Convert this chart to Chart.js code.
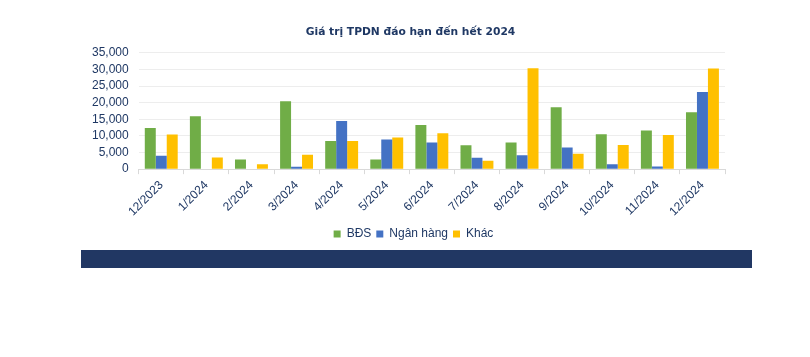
<!DOCTYPE html>
<html>
<head>
<meta charset="utf-8">
<script src="https://cdn.jsdelivr.net/npm/chart.js@4/dist/chart.umd.min.js"></script>
<style>
  html, body { margin: 0; padding: 0; background: #ffffff; }
  #wrap { position: absolute; left: 0; top: 0; width: 810px; height: 250px; }
  #band { position: absolute; left: 81px; top: 250px; width: 671px; height: 18px; background: #213763; }
</style>
</head>
<body>
<div id="wrap"><canvas id="c"></canvas></div>
<div id="band"></div>
<script>
const categories = ["12/2023","1/2024","2/2024","3/2024","4/2024","5/2024","6/2024","7/2024","8/2024","9/2024","10/2024","11/2024","12/2024"];
const bds      = [12400, 15900, 2900, 20400, 8500, 2900, 13300, 7200, 8000, 18600, 10500, 11600, 17100];
const nganHang = [4000, 0, 0, 700, 14500, 8900, 8000, 3400, 4200, 6500, 1500, 800, 23200];
const khac     = [10400, 3500, 1500, 4300, 8500, 9500, 10800, 2500, 30400, 4600, 7300, 10300, 30300];
const yTicks   = [0, 5000, 10000, 15000, 20000, 25000, 30000, 35000];
const titleText = "Giá trị TPDN đáo hạn đến hết 2024";

const navy = "#1F3864";
const fam = "'Liberation Sans', Arial, sans-serif";

// nudge title and legend horizontally to match the reference centring
const nudge = {
  id: "nudge",
  afterLayout(chart) {
    if (chart.titleBlock) { chart.titleBlock.left += 7; chart.titleBlock.right += 7; }
    if (chart.legend) { chart.legend.left += 10; chart.legend.right += 10; }
  }
};

new Chart(document.getElementById("c"), {
  type: "bar",
  data: {
    labels: categories,
    datasets: [
      { label: "BĐS", data: bds, backgroundColor: "#70AD47" },
      { label: "Ngân hàng", data: nganHang, backgroundColor: "#4472C4" },
      { label: "Khác", data: khac, backgroundColor: "#FFC000" }
    ]
  },
  plugins: [nudge],
  options: {
    responsive: true,
    maintainAspectRatio: false,
    animation: false,
    datasets: { bar: { categoryPercentage: 0.73, barPercentage: 1.0 } },
    layout: { padding: { left: 82, right: 85, top: 26, bottom: 0 } },
    plugins: {
      title: {
        display: true, text: titleText, color: navy,
        font: { family: "'DejaVu Sans', sans-serif", size: 10.7, weight: "bold" },
        padding: { top: 0, bottom: 14 }
      },
      legend: {
        position: "bottom",
        labels: {
          color: navy, boxWidth: 7, boxHeight: 7, padding: 5,
          font: { family: fam, size: 12 }
        }
      },
      tooltip: { enabled: false }
    },
    scales: {
      x: {
        grid: { display: true, drawOnChartArea: false, offset: true, color: "#D9D9D9", tickLength: 5 },
        border: { display: true, color: "#D9D9D9" },
        ticks: {
          color: navy, maxRotation: 45, minRotation: 45, padding: 4, autoSkip: false,
          font: { family: fam, size: 12 }
        }
      },
      y: {
        min: 0, max: 35000,
        afterBuildTicks: (axis) => { axis.ticks = yTicks.map(v => ({ value: v })); },
        grid: { color: "#EDEDED", drawTicks: false },
        border: { display: false },
        ticks: {
          color: navy, padding: 10, autoSkip: false,
          font: { family: fam, size: 12 },
          callback: (v) => Number(v).toLocaleString("en-US")
        }
      }
    }
  }
});
</script>
</body>
</html>
